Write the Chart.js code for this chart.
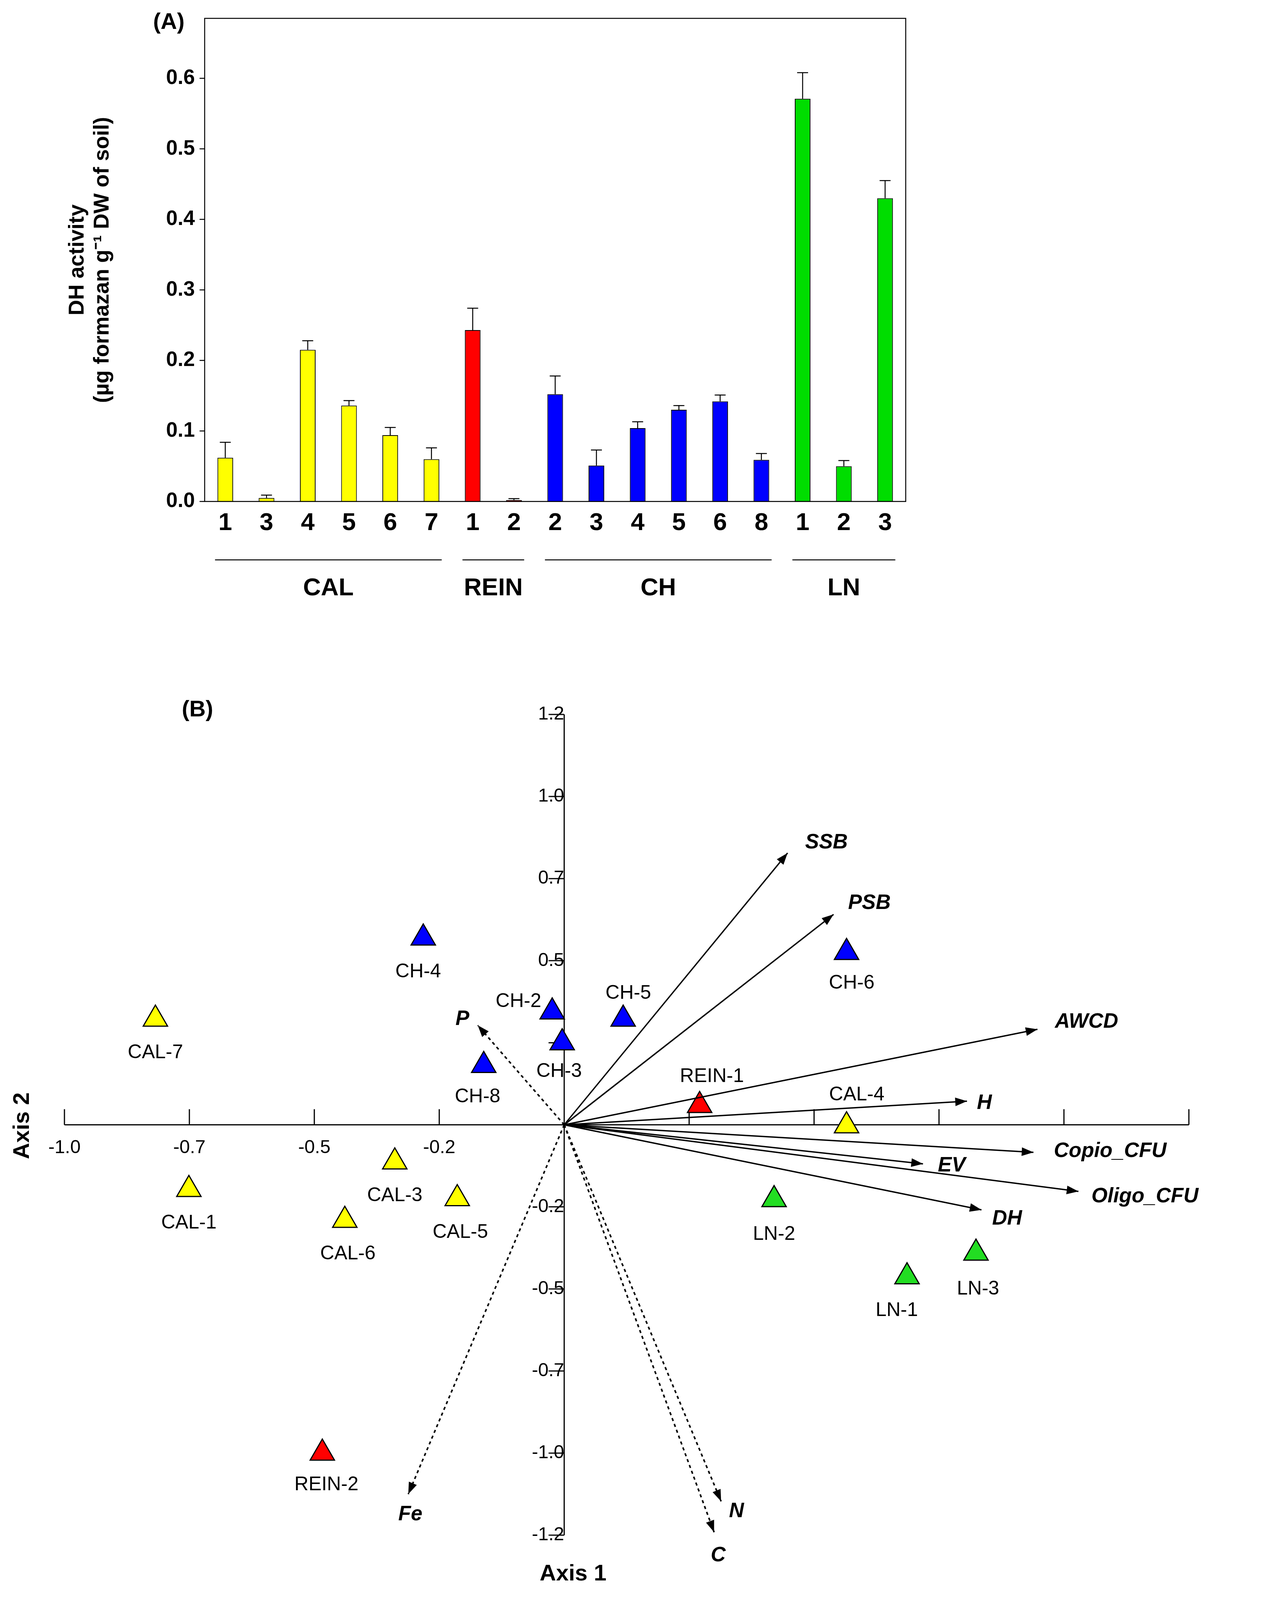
<!DOCTYPE html>
<html><head><meta charset="utf-8">
<script src="https://cdn.jsdelivr.net/npm/chart.js@4"></script>
<style>body{margin:0;background:#fff;width:3285px;height:4304px;overflow:hidden;position:relative}</style></head>
<body>
<div id="a" style="position:absolute;left:0;top:0;width:3285px;height:1650px"><canvas id="ca"></canvas></div>
<div id="b" style="position:absolute;left:0;top:1650px;width:3285px;height:2654px"><canvas id="cb"></canvas></div>
<script>
const S=2.62, TB=1650;
// Panel A data
const barLabels=['1','3','4','5','6','7','1','2','2','3','4','5','6','8','1','2','3'];
const dhValues=[0.062,0.005,0.215,0.136,0.094,0.060,0.243,0.002,0.152,0.051,0.104,0.130,0.142,0.059,0.571,0.050,0.430];
const dhErrors=[0.022,0.004,0.013,0.007,0.011,0.016,0.031,0.002,0.026,0.022,0.009,0.006,0.009,0.009,0.037,0.008,0.025];
const barColors=['#ffff00','#ffff00','#ffff00','#ffff00','#ffff00','#ffff00','#ff0000','#ff0000','#0000ff','#0000ff','#0000ff','#0000ff','#0000ff','#0000ff','#00dd00','#00dd00','#00dd00'];
const groups=[['CAL',0,5],['REIN',6,7],['CH',8,13],['LN',14,16]];
// Panel B data
const siteNames=['CAL-7','CAL-1','CAL-6','CAL-3','CAL-5','CAL-4','CH-4','CH-2','CH-3','CH-5','CH-8','CH-6','REIN-1','REIN-2','LN-2','LN-1','LN-3'];
const siteX=[-0.818,-0.751,-0.439,-0.339,-0.214,0.565,-0.282,-0.024,-0.004,0.118,-0.161,0.565,0.271,-0.484,0.420,0.686,0.824];
const siteY=[0.322,-0.197,-0.291,-0.113,-0.225,-0.003,0.569,0.344,0.250,0.322,0.181,0.525,0.059,-1.000,-0.228,-0.463,-0.391];
const siteColors=['#ffff00','#ffff00','#ffff00','#ffff00','#ffff00','#ffff00','#0000ff','#0000ff','#0000ff','#0000ff','#0000ff','#0000ff','#ff0000','#ff0000','#22dd22','#22dd22','#22dd22'];
const siteLabelOff=[[0,33],[0,33],[3,33],[0,33],[3,33],[10,-30],[-5,33],[-33,-10],[-3,28],[5,-25],[-6,31],[5,30],[12,-28],[4,31],[0,34],[-10,33],[2,35]];
const vecNames=['SSB','PSB','AWCD','H','Copio_CFU','EV','Oligo_CFU','DH','P','Fe','N','C'];
const vecX=[0.447,0.539,0.947,0.806,0.939,0.718,1.029,0.835,-0.173,-0.312,0.314,0.300];
const vecY=[0.828,0.641,0.291,0.072,-0.084,-0.119,-0.203,-0.259,0.303,-1.125,-1.147,-1.241];
const vecDashed=[false,false,false,false,false,false,false,false,true,true,true,true];
const vecLabelOff=[[38,-10],[35,-11],[48,-7],[17,2],[75,-1],[28,2],[65,5],[25,9],[-15,-6],[2,20],[15,10],[4,23]];
const xTickLabels={'-1':'-1.0','-0.75':'-0.7','-0.5':'-0.5','-0.25':'-0.2'};
const yTickLabels={'1.25':'1.2','1':'1.0','0.75':'0.7','0.5':'0.5','-0.25':'-0.2','-0.5':'-0.5','-0.75':'-0.7','-1':'-1.0','-1.25':'-1.2'};

const FF='"Liberation Sans", Arial, sans-serif';
Chart.defaults.font.family=FF;
Chart.defaults.color='#000';

new Chart(document.getElementById('ca'),{
 type:'bar',
 data:{labels:barLabels,datasets:[{data:dhValues,backgroundColor:barColors,borderColor:'#000',borderWidth:2,barPercentage:0.38,categoryPercentage:1}]},
 options:{responsive:true,maintainAspectRatio:false,animation:false,
  layout:{padding:{top:Math.round(18*S),right:Math.round(3285-885*S),left:0,bottom:0}},
  plugins:{legend:{display:false},tooltip:{enabled:false}},
  scales:{
   x:{grid:{display:false,drawTicks:false},border:{display:false},
      ticks:{font:{size:63,weight:'bold'},padding:18,maxRotation:0},
      afterFit:s=>{s.height=1650-490*S;}},
   y:{min:0,max:0.685,grid:{display:false,drawTicks:true,tickLength:13,tickColor:'#000'},border:{display:false},
      ticks:{stepSize:0.1,font:{size:53,weight:'bold'},padding:12,callback:v=>v<=0.6001?v.toFixed(1):''},
      afterFit:s=>{s.width=200*S;}}
  }},
 plugins:[{id:'extraA',afterDatasetsDraw(c){
   const ctx=c.ctx,a=c.chartArea,x=c.scales.x,y=c.scales.y;
   ctx.save();ctx.strokeStyle='#000';ctx.lineWidth=2.5;ctx.strokeRect(a.left,a.top,a.right-a.left,a.bottom-a.top);
   for(let v=0;v<=0.6001;v+=0.1){const py=y.getPixelForValue(v);ctx.beginPath();ctx.moveTo(a.left,py);ctx.lineTo(a.left-13,py);ctx.stroke();}
   dhValues.forEach((v,i)=>{const px=x.getPixelForValue(i),p0=y.getPixelForValue(v),p1=y.getPixelForValue(v+dhErrors[i]);
     ctx.beginPath();ctx.moveTo(px,p0);ctx.lineTo(px,p1);ctx.moveTo(px-14,p1);ctx.lineTo(px+14,p1);ctx.stroke();});
   ctx.font='bold 63px '+FF;ctx.textAlign='center';ctx.textBaseline='middle';
   groups.forEach(g=>{const l=x.getPixelForValue(g[1])-10*S,r=x.getPixelForValue(g[2])+10*S,ly=547*S;
     ctx.beginPath();ctx.moveTo(l,ly);ctx.lineTo(r,ly);ctx.stroke();ctx.fillText(g[0],(l+r)/2,575*S);});
   ctx.font='bold 58px '+FF;ctx.fillText('(A)',165*S,22*S);
   ctx.save();ctx.translate(88*S,(a.top+a.bottom)/2);ctx.rotate(-Math.PI/2);ctx.font='bold 55px '+FF;
   ctx.fillText('DH activity',0,-32);ctx.fillText('(µg formazan g⁻¹ DW of soil)',0,32);ctx.restore();
   ctx.restore();}}]
});

const vecDatasets=vecNames.map((n,i)=>({type:'line',data:[{x:0,y:0},{x:vecX[i],y:vecY[i]}],borderColor:'#000',borderWidth:vecDashed[i]?4:3.5,borderDash:vecDashed[i]?[8,8]:[],pointRadius:0,fill:false}));
new Chart(document.getElementById('cb'),{
 type:'scatter',
 data:{datasets:[...vecDatasets,{type:'scatter',data:siteX.map((v,i)=>({x:v,y:siteY[i]})),pointStyle:'triangle',pointRadius:36,backgroundColor:siteColors,borderColor:'#000',borderWidth:3}]},
 options:{responsive:true,maintainAspectRatio:false,animation:false,
  layout:{padding:{left:Math.round(63*S),right:Math.round(3285-1162*S),top:Math.round(698*S-TB),bottom:Math.round(4304-1500*S)}},
  plugins:{legend:{display:false},tooltip:{enabled:false}},
  scales:{
   x:{type:'linear',min:-1,max:1.25,position:{y:0},grid:{display:false,drawTicks:true,tickLength:0},border:{display:false},
      ticks:{stepSize:0.25,font:{size:48},padding:30,callback:v=>xTickLabels[String(v)]||''}},
   y:{type:'linear',min:-1.25,max:1.25,position:{x:0},grid:{display:false,drawTicks:false},border:{display:false},
      ticks:{stepSize:0.25,font:{size:48},padding:62,callback:v=>yTickLabels[String(v)]||''}}
  }},
 plugins:[{id:'extraB',beforeDatasetsDraw(c){
   const ctx=c.ctx,x=c.scales.x,y=c.scales.y;ctx.save();ctx.strokeStyle='#000';ctx.lineWidth=3;
   const x0=x.getPixelForValue(0),y0=y.getPixelForValue(0);
   ctx.beginPath();ctx.moveTo(x.getPixelForValue(-1),y0);ctx.lineTo(x.getPixelForValue(1.25),y0);
   ctx.moveTo(x0,y.getPixelForValue(-1.25));ctx.lineTo(x0,y.getPixelForValue(1.25));
   for(let v=-1;v<=1.2501;v+=0.25){const p=x.getPixelForValue(v);ctx.moveTo(p,y0-40);ctx.lineTo(p,y0);}
   for(let v=-1.25;v<=1.2501;v+=0.25){const p=y.getPixelForValue(v);ctx.moveTo(x0-40,p);ctx.lineTo(x0,p);}
   ctx.stroke();ctx.restore();},
  afterDatasetsDraw(c){
   const ctx=c.ctx,x=c.scales.x,y=c.scales.y;ctx.save();ctx.fillStyle='#000';
   const x0=x.getPixelForValue(0),y0=y.getPixelForValue(0);
   vecNames.forEach((n,i)=>{const px=x.getPixelForValue(vecX[i]),py=y.getPixelForValue(vecY[i]);
     const ang=Math.atan2(py-y0,px-x0),L=30,W=11;
     ctx.beginPath();ctx.moveTo(px,py);
     ctx.lineTo(px-L*Math.cos(ang)+W*Math.sin(ang),py-L*Math.sin(ang)-W*Math.cos(ang));
     ctx.lineTo(px-L*Math.cos(ang)-W*Math.sin(ang),py-L*Math.sin(ang)+W*Math.cos(ang));ctx.closePath();ctx.fill();
     ctx.font='italic bold 53px '+FF;ctx.textAlign='center';ctx.textBaseline='middle';
     ctx.fillText(n,px+vecLabelOff[i][0]*S,py+vecLabelOff[i][1]*S);});
   ctx.font='50px '+FF;ctx.textAlign='center';ctx.textBaseline='middle';
   siteNames.forEach((n,i)=>{const px=x.getPixelForValue(siteX[i]),py=y.getPixelForValue(siteY[i]);
     ctx.fillText(n,px+siteLabelOff[i][0]*S,py+siteLabelOff[i][1]*S);});
   ctx.font='bold 58px '+FF;ctx.fillText('(B)',193*S,694*S-TB);
   ctx.fillText('Axis 1',560*S,1538*S-TB);
   ctx.save();ctx.translate(22*S,1100*S-TB);ctx.rotate(-Math.PI/2);ctx.fillText('Axis 2',0,0);ctx.restore();
   ctx.restore();}}]
});
</script></body></html>
